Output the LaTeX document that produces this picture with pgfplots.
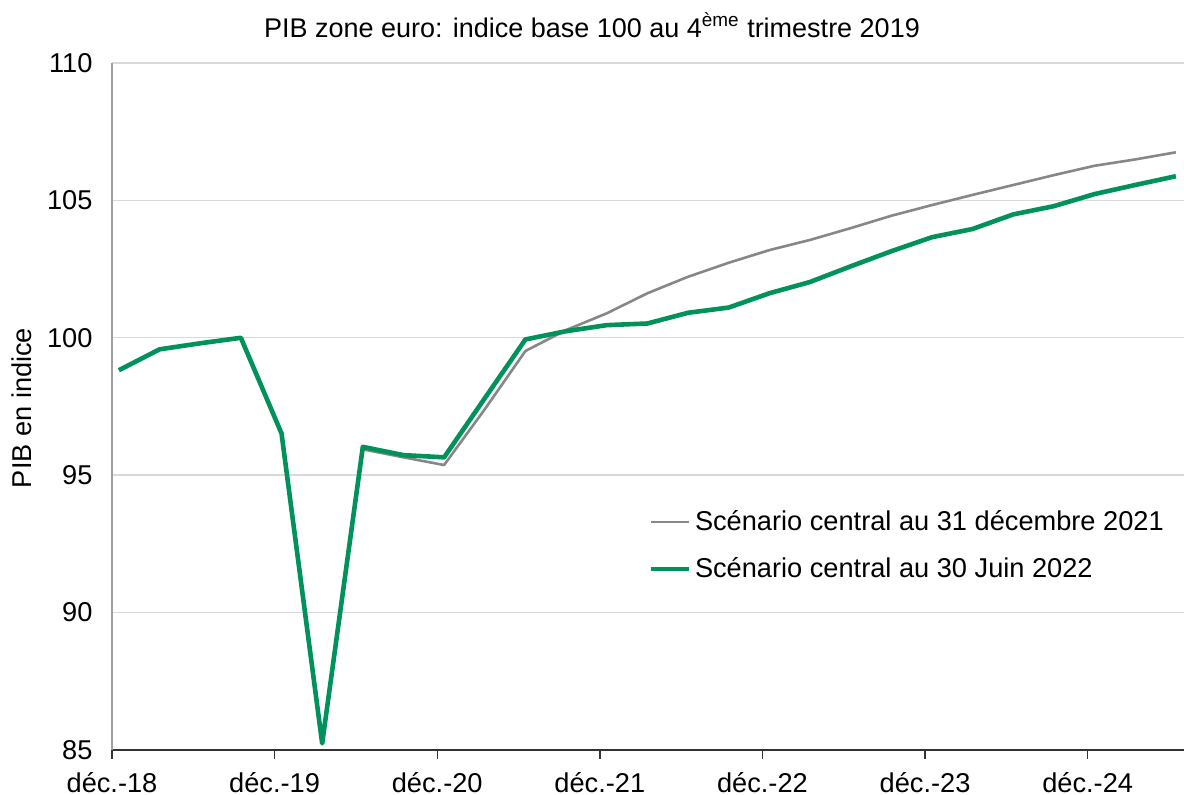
\documentclass[border=0pt]{standalone}
\usepackage{pgfplots}
\pgfplotsset{compat=1.18}
\usepackage{pgfplotstable}
\usepackage{fontspec}
\setmainfont{Liberation Sans}
\definecolor{vert}{RGB}{0,146,90}
\definecolor{gris}{RGB}{135,135,135}
\definecolor{grille}{RGB}{217,217,217}
\pgfplotstableread{
x y
0.17 98.82
1.17 99.58
2.17 99.80
3.17 100.00
4.17 96.52
5.17 85.24
6.17 95.94
7.17 95.65
8.17 95.37
9.17 97.40
10.17 99.52
11.17 100.28
12.17 100.89
13.17 101.62
14.17 102.22
15.17 102.73
16.17 103.19
17.17 103.56
18.17 103.99
19.17 104.44
20.17 104.83
21.17 105.20
22.17 105.56
23.17 105.92
24.17 106.26
25.17 106.49
26.17 106.75
}\gris
\pgfplotstableread{
x y
0.17 98.82
1.17 99.58
2.17 99.80
3.17 100.00
4.17 96.52
5.17 85.24
6.17 96.03
7.17 95.73
8.17 95.65
9.17 97.80
10.17 99.94
11.17 100.24
12.17 100.46
13.17 100.52
14.17 100.91
15.17 101.10
16.17 101.62
17.17 102.03
18.17 102.60
19.17 103.15
20.17 103.66
21.17 103.96
22.17 104.49
23.17 104.79
24.17 105.23
25.17 105.56
26.17 105.88
}\vertt
\begin{document}
\begin{tikzpicture}
\begin{axis}[
  scale only axis,
  width=536pt, height=343.5pt,
  xmin=0, xmax=26.37,
  ymin=85, ymax=110,
  axis x line=bottom, axis y line=left,
  axis line style={-},
  x axis line style={black!80, line width=0.8pt},
  y axis line style={gris!80, line width=0.6pt},
  xtick={0,4,8,12,16,20,24},
  xticklabels={déc.-18,déc.-19,déc.-20,déc.-21,déc.-22,déc.-23,déc.-24},
  ytick={85,90,95,100,105,110},
  ymajorgrids,
  grid style={grille, line width=0.7pt},
  major tick length=4.5pt,
  xtick style={black!80, line width=0.7pt},
  xtick align=outside,
  ytick style={draw=none},
  tick label style={font=\fontsize{13.6}{16}\selectfont},
  /pgf/number format/assume math mode=true,
  xticklabel style={yshift=-3pt},
  yticklabel style={xshift=-4pt},
  clip=false,
  legend style={draw=none, fill=none, at={(rel axis cs:0.5,0.355)}, anchor=north west,
    font=\fontsize{13.6}{16}\selectfont, row sep=8pt, inner sep=0pt},
  legend cell align=left,
  legend image code/.code={\draw[#1] (0pt,0pt) -- (19pt,0pt);},
]
\addplot[gris, line width=1.3pt, line join=round] table[x=x,y=y]{\gris};
\addlegendentry{Scénario central au 31 décembre 2021}
\addplot[vert, line width=2.3pt, line join=round] table[x=x,y=y]{\vertt};
\addlegendentry{Scénario central au 30 Juin 2022}
\coordinate (bl) at (rel axis cs:0,0);
\end{axis}
\node[font=\fontsize{13.5}{16}\selectfont] at ([xshift=240pt,yshift=362.5pt]bl) {PIB zone euro: indice base 100 au 4\textsuperscript{ème} trimestre 2019};
\node[rotate=90, font=\fontsize{13.6}{16}\selectfont] at ([xshift=-45pt,yshift=171pt]bl) {PIB en indice};
\pgfresetboundingbox
\path ([xshift=-56pt,yshift=-22.5pt]bl) rectangle ([xshift=536pt,yshift=375pt]bl);
\end{tikzpicture}
\end{document}
